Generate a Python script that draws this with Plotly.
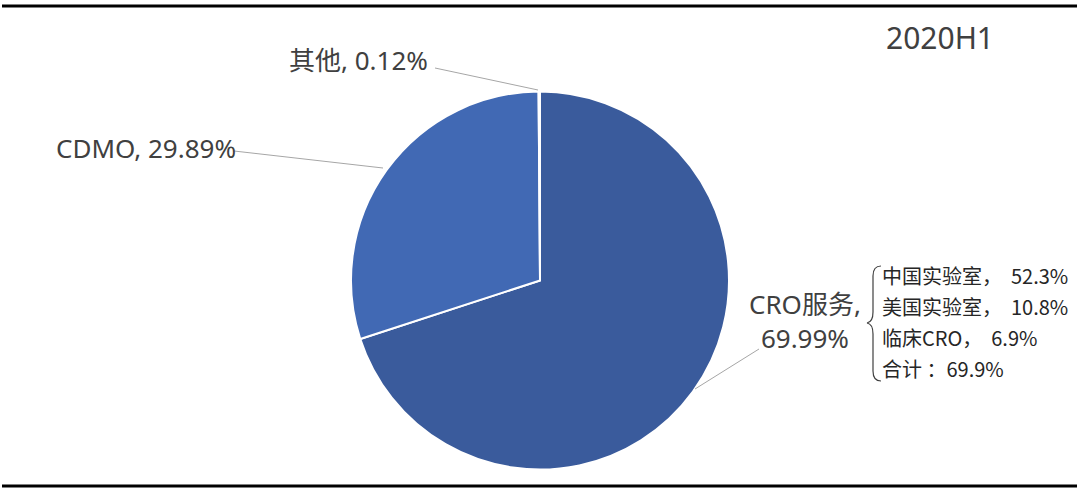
import plotly.graph_objects as go

# data
labels = ['CRO服务', 'CDMO', '其他']
values = [69.99, 29.89, 0.12]
colors = ['#3A5B9C', '#4169B4', '#5B7FC4']
title_text = '2020H1'
sub_labels = ['中国实验室，  ', '美国实验室，  ', '临床CRO，  ', '合计 ：']
sub_values = [52.3, 10.8, 6.9, 69.9]

W, H = 1080, 493
txt_color = '#404040'
fnt = 'Noto Sans, Noto Sans CJK SC'

fig = go.Figure()
fig.add_trace(go.Pie(
    labels=labels, values=values, sort=False, direction='clockwise', rotation=0,
    marker=dict(colors=colors, line=dict(color='white', width=2)),
    textinfo='none', hoverinfo='skip', showlegend=False,
    domain=dict(x=[351 / W, 729 / W], y=[1 - 470 / H, 1 - 91 / H]),
))

# slice labels (pixel coords on hidden axes)
lab = {l: f'{l}, {v:.2f}%' for l, v in zip(labels, values)}
ann = [
    dict(x=54, y=148, text=lab['CDMO'], xanchor='left'),
    dict(x=287, y=60, text=lab['其他'], xanchor='left'),
    dict(x=805, y=321, text=lab['CRO服务'].replace(', ', ',<br>'), xanchor='center'),
    dict(x=940, y=37, text=title_text, xanchor='center', font=dict(size=30, color=txt_color, family=fnt)),
]
for a in ann:
    fig.add_annotation(xref='x', yref='y', yanchor='middle', showarrow=False,
                       font=a.pop('font', dict(size=26, color=txt_color, family=fnt)), **a)

for i, (s, v) in enumerate(zip(sub_labels, sub_values)):
    fig.add_annotation(xref='x', yref='y', x=880, y=275 + i * 31, text=f'{s}{v}%',
                       xanchor='left', yanchor='middle', showarrow=False,
                       font=dict(size=20, color='#262626', family='Noto Sans CJK SC'))

# leader lines
leaders = [
    [(234, 151), (383, 168)],
    [(435, 68), (538, 90)],
    [(759, 349), (695, 389)],
]
for pts in leaders:
    fig.add_shape(type='line', xref='x', yref='y', x0=pts[0][0], y0=pts[0][1],
                  x1=pts[1][0], y1=pts[1][1], line=dict(color='#A6A6A6', width=1))

# brace
fig.add_shape(type='path', xref='x', yref='y',
              path='M 881 266 Q 873 266 873 276 L 873 312 Q 873 322 867 323 '
                   'Q 873 324 873 334 L 873 371 Q 873 381 881 381',
              line=dict(color='#404040', width=1.2))

# top / bottom rules
for yy in (6, 486):
    fig.add_shape(type='line', xref='x', yref='y', x0=2, x1=1077, y0=yy, y1=yy,
                  line=dict(color='black', width=3))

fig.update_layout(
    width=W, height=H, margin=dict(l=0, r=0, t=0, b=0),
    paper_bgcolor='white', plot_bgcolor='rgba(0,0,0,0)',
    xaxis=dict(range=[0, W], visible=False, fixedrange=True),
    yaxis=dict(range=[H, 0], visible=False, fixedrange=True),
)
fig.write_html('out.html', config={'displayModeBar': False},
               post_script="document.body.style.margin='0';")
